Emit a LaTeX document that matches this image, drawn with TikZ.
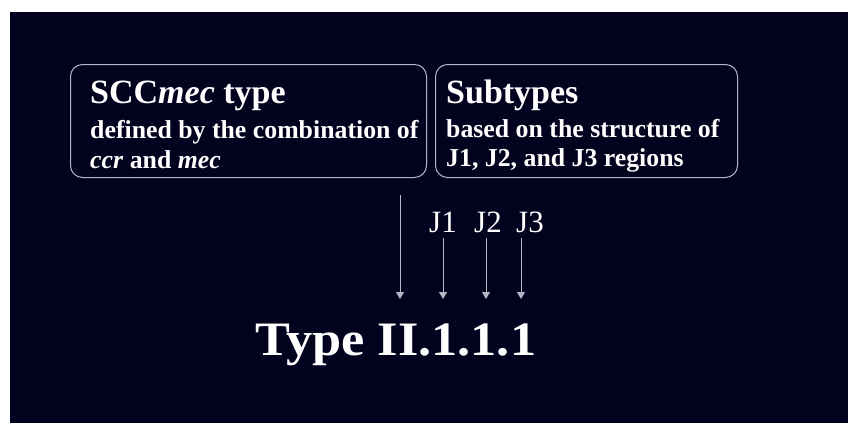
\documentclass[tikz,border=0pt]{standalone}
\usepackage{fontspec}
\setmainfont{Liberation Serif}
\usetikzlibrary{arrows.meta}
\definecolor{bg}{HTML}{03021E}
\definecolor{edge}{HTML}{B4B4C4}
\begin{document}
\begin{tikzpicture}[x=1pt,y=1pt,
  box/.style={draw=edge, line width=1pt, rounded corners=12pt, inner sep=0pt},
  txt/.style={text=white, inner sep=0pt, anchor=base west},
  ttl/.style={txt, font=\fontsize{34}{40}\selectfont\bfseries},
  body/.style={txt, font=\fontsize{25.8}{30}\selectfont\bfseries},
  jlab/.style={text=white, inner sep=0pt, anchor=base, font=\fontsize{31}{34}\selectfont},
  arr/.style={draw=edge, line width=0.9pt, -{Triangle[width=8pt,length=7pt]}}]
\fill[white] (0,0) rectangle (848,-423);
\fill[bg] (9.5,-12) rectangle (848,-423);
\useasboundingbox (0,0) rectangle (848,-423);
% boxes
\node[box, minimum width=356pt, minimum height=113pt, anchor=north west] (b1) at (70,-64) {};
\node[box, minimum width=302pt, minimum height=113pt, anchor=north west] (b2) at (435,-64) {};
% left box text
\node[ttl] (t1) at (90,-103) {SCC\textit{mec} type};
\node[body] (t1a) at (90,-138) {defined by the combination of};
\node[body] (t1b) at (90,-168) {\textit{ccr} and \textit{mec}};
% right box text
\node[ttl] (t2) at (446,-103) {Subtypes};
\node[body] (t2a) at (446,-137) {based on the structure of};
\node[body] (t2b) at (446,-166) {J1, J2, and J3 regions};
% J labels
\node[jlab] (j1) at (443,-232) {J1};
\node[jlab] (j2) at (488,-232) {J2};
\node[jlab] (j3) at (530,-232) {J3};
% result
\node[txt, font=\fontsize{48}{54}\selectfont\bfseries] (res) at (255,-355) {\scalebox{1.09}[1]{Type II.1.1.1}};
% arrow coordinates
\coordinate (s0) at (400,-195);
\coordinate (e0) at (400,-299);
\coordinate (s1) at (443,-238);
\coordinate (e1) at (443,-299);
\coordinate (s2) at (486,-238);
\coordinate (e2) at (486,-299);
\coordinate (s3) at (521,-238);
\coordinate (e3) at (521,-299);
\draw[arr] (s0) -- (e0);
\draw[arr] (s1) -- (e1);
\draw[arr] (s2) -- (e2);
\draw[arr] (s3) -- (e3);
\end{tikzpicture}
\end{document}
